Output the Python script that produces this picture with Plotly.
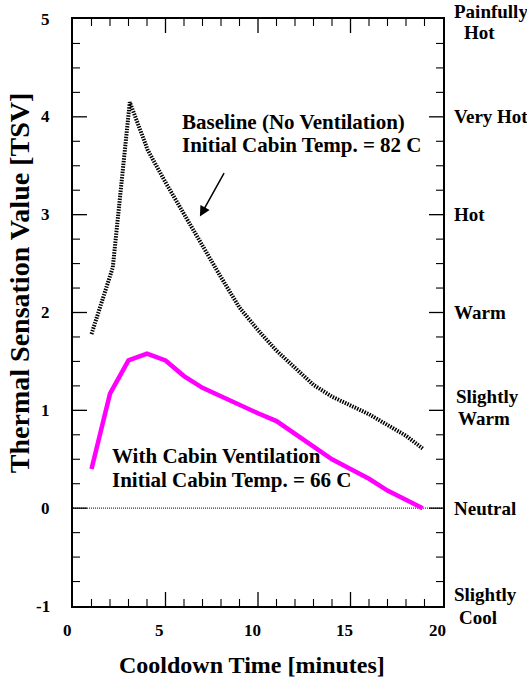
import plotly.graph_objects as go

# ---- data ----
time_baseline = [1.0, 2.15, 3.07, 4.04, 5.0, 6.0, 7.0, 8.0, 9.0, 10.0, 11.0, 12.0, 13.0, 14.0, 15.0, 16.0, 17.0, 18.0, 18.9]
tsv_baseline = [1.78, 2.46, 4.15, 3.66, 3.33, 3.0, 2.68, 2.36, 2.05, 1.82, 1.61, 1.43, 1.26, 1.14, 1.05, 0.96, 0.85, 0.74, 0.61]

time_vent = [1.0, 2.0, 3.0, 4.0, 5.0, 6.0, 7.0, 8.0, 9.0, 10.0, 11.0, 12.0, 13.0, 14.0, 15.0, 16.0, 17.0, 18.0, 18.9]
tsv_vent = [0.40, 1.17, 1.51, 1.58, 1.51, 1.35, 1.23, 1.14, 1.06, 0.97, 0.89, 0.76, 0.64, 0.50, 0.40, 0.30, 0.18, 0.09, 0.0]

neutral_x = [0, 20]
neutral_y = [0, 0]

x_ticks = [0, 5, 10, 15, 20]
x_tick_labels = ["0", "5", "10", "15", "20"]
y_ticks = [-1, 0, 1, 2, 3, 4, 5]
y_tick_labels = ["-1", "0", "1", "2", "3", "4", "5"]
x_minor_ticks = [m for m in range(1, 20) if m % 5 != 0]
y_minor_ticks = [q / 4 for q in range(-3, 20) if q % 4 != 0]

sensation_values = [5, 4, 3, 2, 1, 0, -1]
sensation_labels = [["Painfully", "Hot"], ["Very Hot"], ["Hot"], ["Warm"],
                    ["Slightly", "Warm"], ["Neutral"], ["Slightly", "Cool"]]

FONT = "Liberation Serif, Times New Roman, serif"

fig = go.Figure()

fig.add_trace(go.Scatter(x=neutral_x, y=neutral_y, mode="lines",
                         line=dict(color="#2a2aa0", width=1.2, dash="1px,1px"),
                         showlegend=False, hoverinfo="skip"))
fig.add_trace(go.Scatter(x=time_baseline, y=tsv_baseline, mode="lines",
                         line=dict(color="black", width=4, dash="1.5px,1.2px"),
                         showlegend=False))
fig.add_trace(go.Scatter(x=time_vent, y=tsv_vent, mode="lines",
                         line=dict(color="#ff00ff", width=4.5),
                         showlegend=False))

axis_common = dict(showgrid=False, zeroline=False, showline=True, linecolor="black",
                   linewidth=1.8, mirror=True, ticks="", showticklabels=False)
fig.update_layout(xaxis=dict(range=[0, 20], **axis_common),
                  yaxis=dict(range=[-1, 5], **axis_common))

# ---- tick marks (inside, on all four sides), placed through the axis scales ----
shapes = []
def x_tick(v, length, width):
    for anchor, sign in ((0, 1), (1, -1)):
        shapes.append(dict(type="line", xref="x", yref="paper", x0=v, x1=v,
                           ysizemode="pixel", yanchor=anchor, y0=0, y1=sign * length,
                           line=dict(color="black", width=width)))

def y_tick(v, length, width):
    for anchor, sign in ((0, 1), (1, -1)):
        shapes.append(dict(type="line", xref="paper", yref="y", y0=v, y1=v,
                           xsizemode="pixel", xanchor=anchor, x0=0, x1=sign * length,
                           line=dict(color="black", width=width)))

for v in x_ticks[1:-1]:
    x_tick(v, 14, 1.3)
for v in x_minor_ticks:
    x_tick(v, 7, 1.1)
for v in y_ticks[1:-1]:
    y_tick(v, 14, 1.3)
for v in y_minor_ticks:
    y_tick(v, 7, 1.1)

annots = []
tick_font = dict(family=FONT, size=17, color="black", weight="bold")
for v, t in zip(x_ticks, x_tick_labels):
    annots.append(dict(text=t, xref="x", yref="paper", x=v, y=0, xanchor="center",
                       yanchor="top", xshift=-6, yshift=-13, showarrow=False,
                       font=tick_font))
for v, t in zip(y_ticks, y_tick_labels):
    annots.append(dict(text=t, xref="paper", yref="y", x=0, y=v, xanchor="right",
                       yanchor="middle", xshift=-21, showarrow=False, font=tick_font))

# axis titles
annots.append(dict(text="Cooldown Time [minutes]", xref="paper", yref="paper",
                   x=0.4834, y=-0.101, xanchor="center", yanchor="middle",
                   showarrow=False,
                   font=dict(family=FONT, size=24, color="black", weight="bold")))
annots.append(dict(text="Thermal Sensation Value [TSV]", xref="paper", yref="paper",
                   x=-0.146, y=0.55, xanchor="center", yanchor="middle",
                   textangle=-90, showarrow=False,
                   font=dict(family=FONT, size=28, color="black", weight="bold")))

# right-hand sensation labels
label_font = dict(family=FONT, size=19, color="black", weight="bold")
two_line_shifts = {5: [(8, 0), (-13, 10)], 1: [(14, 2), (-8, 4)], -1: [(12, 0), (-11, 5)]}
for val, lines in zip(sensation_values, sensation_labels):
    if len(lines) == 1:
        annots.append(dict(text=lines[0], xref="paper", yref="y", x=1, y=val,
                           xanchor="left", yanchor="middle", xshift=9,
                           showarrow=False, font=label_font))
    else:
        for line, (ys, xs) in zip(lines, two_line_shifts[val]):
            annots.append(dict(text=line, xref="paper", yref="y", x=1, y=val,
                               xanchor="left", yanchor="middle", xshift=9 + xs,
                               yshift=ys, showarrow=False, font=label_font))

# in-plot annotations
ann_font = dict(family=FONT, size=21, color="black", weight="bold")
for txt, x, y in [("Baseline (No Ventilation)", 5.77, 3.95),
                  ("Initial Cabin Temp. = 82 C", 5.77, 3.71),
                  ("With Cabin Ventilation", 1.99, 0.53),
                  ("Initial Cabin Temp. = 66 C", 1.99, 0.285)]:
    annots.append(dict(text=txt, xref="x", yref="y", x=x, y=y, xanchor="left",
                       yanchor="middle", showarrow=False, font=ann_font))

# arrow
annots.append(dict(text="", x=6.86, y=2.98, ax=8.21, ay=3.44, xref="x", yref="y",
                   axref="x", ayref="y", showarrow=True, arrowhead=2,
                   arrowsize=1.4, arrowwidth=1.5, arrowcolor="black"))

fig.update_layout(width=527, height=681, margin=dict(l=73, r=84, t=19, b=75),
                  plot_bgcolor="white", paper_bgcolor="white",
                  annotations=annots, shapes=shapes, showlegend=False)

fig.write_html("out.html")
